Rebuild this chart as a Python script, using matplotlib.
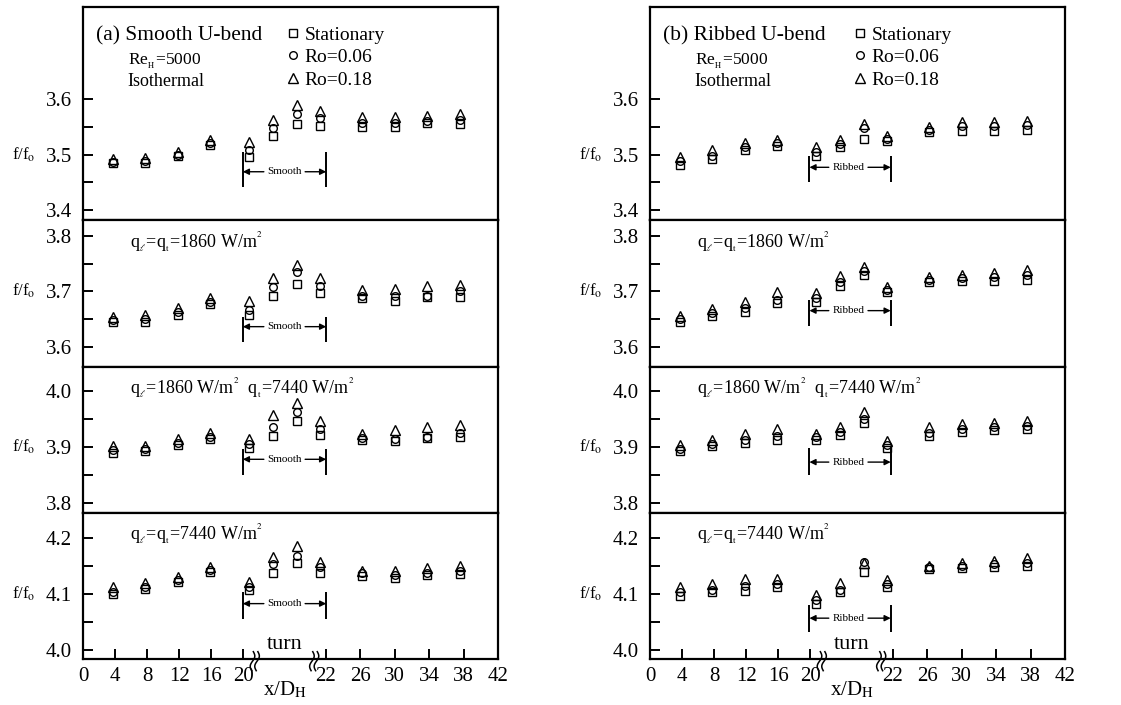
import matplotlib
matplotlib.use("Agg")
import matplotlib.pyplot as plt
import numpy as np

plt.rcParams['font.family'] = ['Liberation Serif', 'DejaVu Serif']
plt.rcParams['mathtext.fontset'] = 'stix'

# === Data ===
# measuring stations along the channel (x/D_H); turn stations sit between 20 and 22
stations = [3.8, 7.8, 11.8, 15.8, 20.15, 20.72, 21.3, 21.85, 26.2, 30.0, 33.8, 37.6]

# (a) smooth U-bend
a1_stat = [3.484, 3.485, 3.497, 3.517, 3.495, 3.534, 3.555, 3.551, 3.549, 3.550, 3.556, 3.555]
a1_ro06 = [3.487, 3.488, 3.500, 3.520, 3.509, 3.548, 3.573, 3.565, 3.557, 3.557, 3.560, 3.563]
a1_ro18 = [3.492, 3.493, 3.505, 3.527, 3.523, 3.562, 3.590, 3.579, 3.568, 3.568, 3.570, 3.573]

a2_stat = [3.645, 3.644, 3.657, 3.677, 3.658, 3.692, 3.713, 3.697, 3.687, 3.683, 3.690, 3.690]
a2_ro06 = [3.648, 3.650, 3.663, 3.680, 3.667, 3.707, 3.735, 3.710, 3.692, 3.692, 3.692, 3.700]
a2_ro18 = [3.653, 3.657, 3.670, 3.687, 3.682, 3.724, 3.747, 3.724, 3.702, 3.705, 3.709, 3.712]

a3_stat = [3.890, 3.892, 3.904, 3.914, 3.898, 3.920, 3.946, 3.921, 3.912, 3.910, 3.916, 3.917]
a3_ro06 = [3.894, 3.896, 3.908, 3.918, 3.906, 3.935, 3.963, 3.932, 3.916, 3.915, 3.918, 3.925]
a3_ro18 = [3.901, 3.902, 3.914, 3.925, 3.914, 3.958, 3.979, 3.947, 3.924, 3.930, 3.935, 3.940]

a4_stat = [4.100, 4.110, 4.121, 4.139, 4.107, 4.137, 4.155, 4.137, 4.133, 4.128, 4.134, 4.136]
a4_ro06 = [4.104, 4.113, 4.125, 4.143, 4.113, 4.153, 4.168, 4.148, 4.137, 4.135, 4.137, 4.142]
a4_ro18 = [4.113, 4.119, 4.131, 4.149, 4.121, 4.166, 4.186, 4.157, 4.141, 4.142, 4.146, 4.151]

# (b) ribbed U-bend
b1_stat = [3.482, 3.492, 3.508, 3.516, 3.498, 3.513, 3.528, 3.525, 3.540, 3.543, 3.543, 3.545]
b1_ro06 = [3.488, 3.498, 3.513, 3.520, 3.505, 3.519, 3.548, 3.528, 3.545, 3.551, 3.552, 3.553]
b1_ro18 = [3.496, 3.508, 3.520, 3.526, 3.513, 3.527, 3.555, 3.533, 3.550, 3.558, 3.559, 3.561]

b2_stat = [3.644, 3.655, 3.662, 3.678, 3.680, 3.709, 3.730, 3.698, 3.716, 3.718, 3.719, 3.721]
b2_ro06 = [3.649, 3.660, 3.670, 3.685, 3.688, 3.717, 3.736, 3.702, 3.721, 3.724, 3.726, 3.729]
b2_ro18 = [3.655, 3.668, 3.680, 3.698, 3.697, 3.728, 3.744, 3.708, 3.726, 3.730, 3.733, 3.738]

b3_stat = [3.892, 3.901, 3.908, 3.912, 3.912, 3.921, 3.943, 3.898, 3.920, 3.926, 3.930, 3.932]
b3_ro06 = [3.896, 3.905, 3.913, 3.919, 3.917, 3.926, 3.950, 3.904, 3.925, 3.932, 3.935, 3.938]
b3_ro18 = [3.904, 3.913, 3.923, 3.932, 3.923, 3.935, 3.962, 3.911, 3.936, 3.941, 3.943, 3.946]

b4_stat = [4.097, 4.103, 4.106, 4.112, 4.083, 4.103, 4.140, 4.113, 4.145, 4.147, 4.149, 4.151]
b4_ro06 = [4.103, 4.108, 4.115, 4.118, 4.090, 4.108, 4.157, 4.118, 4.148, 4.151, 4.153, 4.156]
b4_ro18 = [4.113, 4.118, 4.127, 4.127, 4.099, 4.119, 4.156, 4.125, 4.151, 4.156, 4.159, 4.164]

series_labels = ["Stationary", "Ro=0.06", "Ro=0.18"]
x_ticks = [0, 4, 8, 12, 16, 20, 22, 26, 30, 34, 38, 42]

panel_texts = [None,
               r"q$_{_{\ell}}$=q$_{_{\mathrm{t}}}$=1860 W/m$^{^{2}}$",
               r"q$_{_{\ell}}$=1860 W/m$^{^{2}}$  q$_{_{\mathrm{t}}}$=7440 W/m$^{^{2}}$",
               r"q$_{_{\ell}}$=q$_{_{\mathrm{t}}}$=7440 W/m$^{^{2}}$"]
y_majors = [[3.4, 3.5, 3.6], [3.6, 3.7, 3.8], [3.8, 3.9, 4.0], [4.0, 4.1, 4.2]]
y_limits = [(3.382, 3.766), (3.563, 3.829), (3.782, 4.043), (3.984, 4.245)]


# === Broken x axis: the turn (20..22) is stretched ===
TURN_W = 10.3    # width of the turn region in axis units
S_AFTER = 1.075  # scale of the second pass


def fwd(x):
    x = np.asarray(x, dtype=float)
    return np.where(x <= 20, x,
                    np.where(x >= 22, 20 + TURN_W + (x - 22) * S_AFTER,
                             20 + (x - 20) * TURN_W / 2))


def inv(u):
    u = np.asarray(u, dtype=float)
    return np.where(u <= 20, u,
                    np.where(u >= 20 + TURN_W, 22 + (u - 20 - TURN_W) / S_AFTER,
                             20 + (u - 20) * 2 / TURN_W))


def bracket(ax, label, x0, x1, ytop, ybot, yarr):
    ax.vlines([x0, x1], ybot, ytop, color='k', lw=1.4)
    ax.annotate('', xy=(x0, yarr), xytext=(x0 + 0.55, yarr),
                arrowprops=dict(arrowstyle='-|>', color='k', lw=1, shrinkA=0, shrinkB=0,
                                mutation_scale=9))
    ax.annotate('', xy=(x1, yarr), xytext=(x1 - 0.55, yarr),
                arrowprops=dict(arrowstyle='-|>', color='k', lw=1, shrinkA=0, shrinkB=0,
                                mutation_scale=9))
    ax.text((x0 + x1) / 2, yarr, label, ha='center', va='center', fontsize=8)


def axis_break(ax, xb):
    # two small wavy strokes across the x axis
    t = np.linspace(0, 1, 40)
    yy = 0.05 - t * 0.13
    for dx in (-0.055, 0.055):
        xx = xb + dx + 0.045 * np.sin(2 * np.pi * t) - 0.04 * (t - 0.5)
        ax.plot(xx, yy, color='k', lw=1.1, transform=ax.get_xaxis_transform(),
                clip_on=False)


fig = plt.figure(figsize=(11.21, 7.05), dpi=100)

col_x = [83 / 1121, 650 / 1121]
col_w = 415 / 1121
rows_px = [(7, 220), (220, 367), (367, 513), (513, 659)]

columns = [
    dict(name="(a) Smooth U-bend", tag="Smooth",
         data=[(a1_stat, a1_ro06, a1_ro18), (a2_stat, a2_ro06, a2_ro18),
               (a3_stat, a3_ro06, a3_ro18), (a4_stat, a4_ro06, a4_ro18)],
         brackets=[(19.95, 22.05, 3.504, 3.441, 3.469), (19.95, 22.05, 3.654, 3.609, 3.636),
                   (19.95, 22.05, 3.896, 3.850, 3.878), (19.95, 22.05, 4.103, 4.055, 4.083)]),
    dict(name="(b) Ribbed U-bend", tag="Ribbed",
         data=[(b1_stat, b1_ro06, b1_ro18), (b2_stat, b2_ro06, b2_ro18),
               (b3_stat, b3_ro06, b3_ro18), (b4_stat, b4_ro06, b4_ro18)],
         brackets=[(19.9, 21.95, 3.497, 3.451, 3.477), (19.9, 21.95, 3.685, 3.637, 3.665),
                   (19.9, 21.95, 3.898, 3.850, 3.873), (19.9, 21.95, 4.080, 4.032, 4.057)]),
]

markers = [dict(marker='s', ms=6), dict(marker='o', ms=5.5), dict(marker='^', ms=6.5)]

for ci, col in enumerate(columns):
    for ri, (top, bot) in enumerate(rows_px):
        ax = fig.add_axes([col_x[ci], 1 - bot / 705, col_w, (bot - top) / 705])
        ax.set_xscale('function', functions=(fwd, inv))
        ax.set_xlim(0, 42)
        ax.set_ylim(*y_limits[ri])

        handles = []
        for vals, mk, lab in zip(col["data"][ri], markers, series_labels):
            h, = ax.plot(stations, vals, ls='none', mfc='none', mec='k', mew=1.0,
                         label=lab, **mk)
            handles.append(h)

        for sp in ax.spines.values():
            sp.set_linewidth(1.6)

        lo, mid, hi = y_majors[ri]
        ax.set_yticks([lo, mid, hi])
        ax.set_yticklabels([f"{v:.1f}" for v in (lo, mid, hi)])
        ax.set_yticks([lo + 0.05, mid + 0.05], minor=True)
        ax.tick_params(axis='y', which='both', direction='in', length=7, width=1.4,
                       labelsize=15, pad=8)
        ax.text(-0.115, mid, r"f/f$_{\mathrm{o}}$", transform=ax.get_yaxis_transform(),
                ha='right', va='center', fontsize=12)

        bracket(ax, col["tag"], *col["brackets"][ri])

        if ri == 0:
            ax.text(0.032, 0.866, col["name"], transform=ax.transAxes, fontsize=15.5,
                    va='center', ha='left')
            ax.text(0.108, 0.742, r"Re$_{_{\mathrm{H}}}$=5000", transform=ax.transAxes,
                    fontsize=12.5, va='center', ha='left')
            ax.text(0.108, 0.648, "Isothermal", transform=ax.transAxes, fontsize=13,
                    va='center', ha='left')
            ax.legend(handles=handles, loc='upper left', bbox_to_anchor=(0.49, 0.91),
                      frameon=False, fontsize=14, handlelength=0.7, handletextpad=0.25,
                      labelspacing=0.25, borderaxespad=0, borderpad=0)
        else:
            ax.text(0.113, 0.85, panel_texts[ri], transform=ax.transAxes, fontsize=13,
                    va='center', ha='left')

        if ri == 3:
            ax.set_xticks(x_ticks)
            ax.set_xticklabels([str(v) for v in x_ticks])
            ax.tick_params(axis='x', direction='in', length=7, width=1.4, labelsize=15,
                           pad=6, top=False)
            ax.text(21.0, 0.035, "turn", transform=ax.get_xaxis_transform(),
                    ha='center', va='bottom', fontsize=16)
            for xb in (20.28, 21.72):
                axis_break(ax, xb)
            ax.text(21.0, -0.215, r"x/D$_{\mathrm{H}}$", transform=ax.get_xaxis_transform(),
                    ha='center', va='center', fontsize=15)
        else:
            ax.tick_params(axis='x', which='both', bottom=False, top=False,
                           labelbottom=False)
        ax.tick_params(axis='x', which='minor', bottom=False, top=False)

fig.savefig("out.png", dpi=100)
